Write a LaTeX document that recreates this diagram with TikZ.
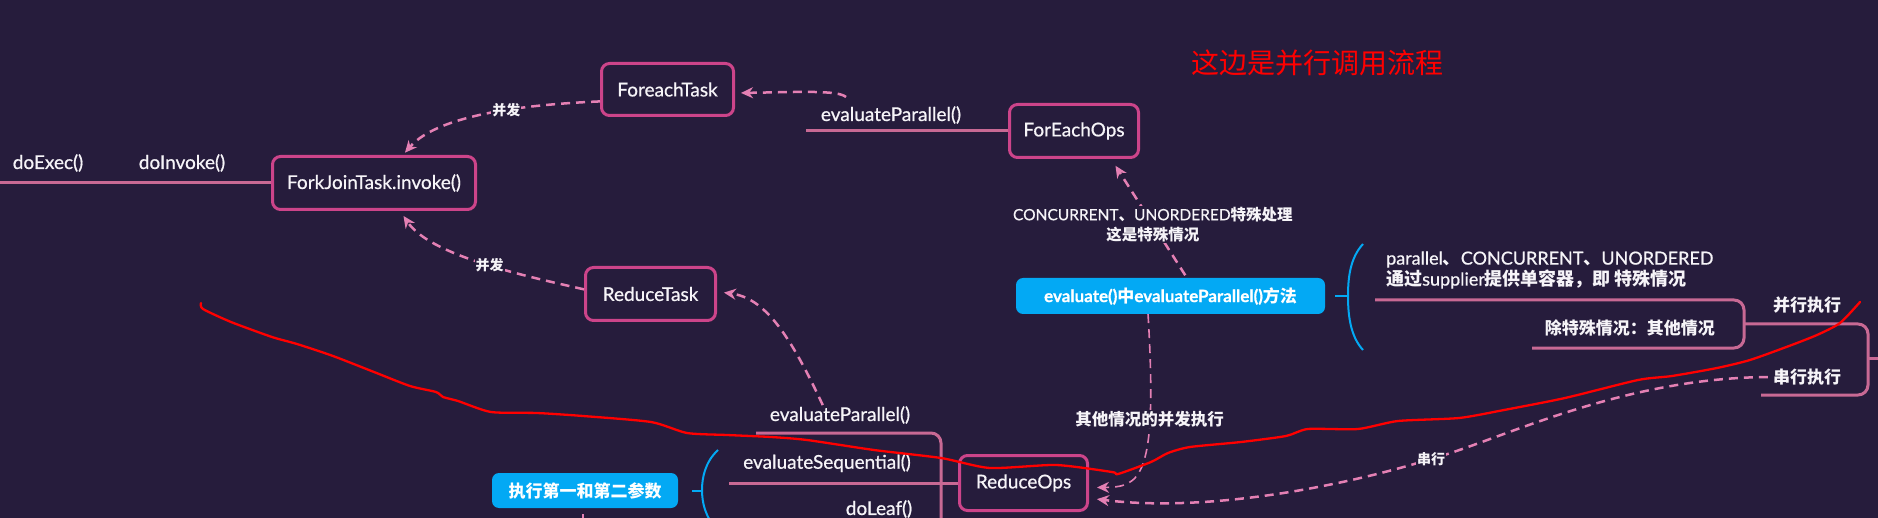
\documentclass[tikz,border=0pt]{standalone}
\usepackage{fontspec}
\setmainfont{Noto Sans CJK SC}
\newfontfamily\lat{Lato}[FakeBold=0.7]
\usetikzlibrary{arrows.meta}
\usetikzlibrary{calc}

\definecolor{bgpurple}{RGB}{38,28,60}
\definecolor{boxpink}{RGB}{204,68,138}
\definecolor{linepink}{RGB}{200,105,148}
\definecolor{flowpink}{RGB}{228,128,180}
\definecolor{noteblue}{RGB}{3,169,244}
\definecolor{txtwhite}{RGB}{246,244,248}

\tikzset{
  taskbox/.style={draw=boxpink, line width=3pt, rounded corners=8pt, fill=bgpurple, text=txtwhite, font=\lat\fontsize{19}{22}\selectfont, inner sep=0pt},
  bluenote/.style={fill=noteblue, rounded corners=7pt, text=white, font=\bfseries\fontsize{17}{20}\selectfont, inner sep=0pt},
  branch/.style={draw=linepink, line width=3pt},
  flow/.style={draw=flowpink, line width=2.5pt, dash pattern=on 9pt off 6pt, -{Stealth[length=12pt,width=11pt]}},
  fnlabel/.style={text=txtwhite, font=\lat\fontsize{19}{22}\selectfont, inner sep=1pt},
  cnlabel/.style={text=txtwhite, font=\bfseries\fontsize{17}{21}\selectfont, inner sep=1pt},
  flowlabel/.style={text=txtwhite, fill=bgpurple, font=\bfseries\fontsize{14}{20}\selectfont, inner sep=1pt, align=center},
  bracket/.style={draw=noteblue, line width=2pt},
}

\begin{document}
\begin{tikzpicture}[x=1pt,y=1pt,yscale=-1,xscale=1]
\useasboundingbox (0,0) rectangle (1878,518);
\fill[bgpurple] (0,0) rectangle (1878,518);
\clip (0,0) rectangle (1878,518);

% Title
\node[text=red, font=\fontsize{28}{32}\selectfont] (title) at (1317,63) {这边是并行调用流程};

%Shape: Rectangle [boxes]
\node[taskbox, minimum width=203pt, minimum height=53pt] (forkjoin) at (374,183) {ForkJoinTask.invoke()};
\node[taskbox, minimum width=132pt, minimum height=52pt] (foreachtask) at (667.5,89.5) {ForeachTask};
\node[taskbox, minimum width=129pt, minimum height=53pt] (foreachops) at (1074,131) {ForEachOps};
\node[taskbox, minimum width=130pt, minimum height=53pt] (reducetask) at (650.5,294) {ReduceTask};
\node[taskbox, minimum width=128pt, minimum height=55pt] (reduceops) at (1023.5,483) {ReduceOps};

%Shape: Blue notes
\node[bluenote, minimum width=309pt, minimum height=36pt] (evalpar) at (1170.5,296) {{\lat\bfseries evaluate()}中{\lat\bfseries evaluateParallel()}方法};
\node[bluenote, minimum width=186pt, minimum height=35pt] (execargs) at (585,490.5) {执行第一和第二参数};

% Text Node
\node[fnlabel] (doexec) at (48,163) {doExec()};
\node[fnlabel] (doinvoke) at (182,163) {doInvoke()};
\node[fnlabel] (epA) at (891,115) {evaluateParallel()};
\node[fnlabel] (epB) at (840,415) {evaluateParallel()};
\node[fnlabel] (eseq) at (827,463) {evaluateSequential()};
\node[fnlabel] (doleaf) at (879,509) {doLeaf()};
\node[cnlabel, anchor=west, align=left, font=\bfseries\fontsize{18}{21}\selectfont] (special) at (1385,270) {{\lat\mdseries parallel}、{\lat\mdseries CONCURRENT}、{\lat\mdseries UNORDERED}\\通过{\lat\mdseries supplier}提供单容器，即 特殊情况};
\node[cnlabel, anchor=east] (other) at (1716,328) {除特殊情况：其他情况};
\node[cnlabel] (par) at (1807,305) {并行执行};
\node[cnlabel] (serial) at (1807,377) {串行执行};

%Straight Lines [branches]
\coordinate (leftend) at (0,183);
\draw[branch] (leftend) -- (forkjoin.west);
\coordinate (epAend) at (806,131);
\draw[branch] (foreachops.west) -- (epAend);
\coordinate (epBleft) at (756,433);
\coordinate (leafdown) at (941,540);
\draw[branch, rounded corners=10pt] (epBleft) -- (941,433) -- (leafdown);
\coordinate (eseqleft) at (729,483);
\draw[branch] (reduceops.west) -- (eseqleft);
\coordinate (specialleft) at (1375,300);
\coordinate (otherleft) at (1532,348);
\draw[branch, rounded corners=10pt] (specialleft) -- (1744,300) -- (1744,348) -- (otherleft);
\coordinate (serialleft) at (1761,395);
\coordinate (rightedge) at (1878,358);
\draw[branch, rounded corners=10pt] (1744,324) -- (1868,324) -- (1868,395) -- (serialleft);
\draw[branch] (1868,358) -- (rightedge);

%Shape: Brackets
\draw[bracket] ($(evalpar.east)+(10,0)$) -- ++(13,0);
\draw[bracket] (1363,244) .. controls (1350,258) and (1348,278) .. (1348,296) .. controls (1348,314) and (1350,336) .. (1363,350);
\draw[bracket] ($(execargs.east)+(14,0)$) -- ++(10,0);
\draw[bracket] (718,450) .. controls (705,462) and (702,478) .. (702,490) .. controls (702,502) and (705,518) .. (718,530);

%Curve Lines [dashed flows]
\draw[flow, shorten >=3pt] (foreachtask.190) .. controls (540,104) and (440,112) .. node[flowlabel, pos=0.44] (bingA) {并发} (forkjoin.44);
\draw[flow, shorten >=6pt] (reducetask.176) .. controls (520,275) and (430,255) .. node[flowlabel, pos=0.45] (bingB) {并发} (forkjoin.-47);
\coordinate (epAstart) at (846,97);
\draw[flow, shorten >=6pt] (epAstart) .. controls (838,90) and (800,92) .. (foreachtask.-3);
\draw[flow, shorten >=8pt, shorten <=3pt] (evalpar.48) -- node[flowlabel, pos=0.45, font=\bfseries\fontsize{15.5}{20}\selectfont] (speciallabel) {{\lat\mdseries CONCURRENT}、{\lat\mdseries UNORDERED}特殊处理\\这是特殊情况} (foreachops.-37);
\draw[flow, line width=1.6pt, shorten >=8pt] (evalpar.-141) .. controls (1158,480) and (1140,487) .. node[flowlabel, pos=0.28, font=\bfseries\fontsize{16.5}{20}\selectfont] (otherlabel) {其他情况的并发执行} (reduceops.-4);
\draw[flow, shorten >=8pt, shorten <=4pt] (serial.west) .. controls (1620,378) and (1500,440) .. (1431,459) node[flowlabel] (chuan) {串行} .. controls (1330,490) and (1200,512) .. (reduceops.-13);
\draw[flow, shorten >=7pt] (epB.150) .. controls (790,335) and (765,298) .. (reducetask.2);
\draw[flow, -] ($(execargs.south)+(-2,6)$) -- ++(0,12);

%Freehand red line
\draw[red, line width=2.3pt, line join=round, line cap=round] plot[smooth, tension=0.4] coordinates {(201,303) (203,309) (231,322) (272,337) (297,344) (333,356) (374,372) (410,386) (436,392) (443,397) (458,401) (491,412) (537,413) (583,416) (651,422) (687,433) (727,435) (771,437) (807,440) (874,450) (941,458) (990,468) (1056,465) (1112,472) (1118,474) (1151,462) (1168,453) (1190,447) (1241,442) (1286,436) (1308,429) (1358,429) (1398,421) (1459,418) (1504,410) (1565,398) (1638,380) (1672,376) (1717,368) (1750,360) (1789,346) (1817,335) (1840,323) (1860,302)};

\end{tikzpicture}
\end{document}
